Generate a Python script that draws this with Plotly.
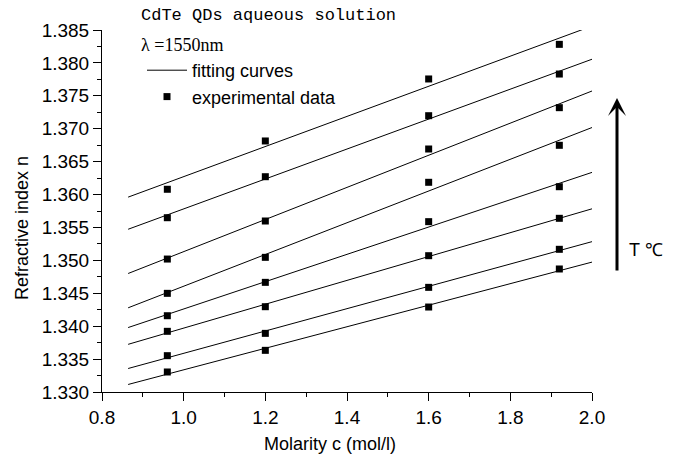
import numpy as np
import plotly.graph_objects as go

# Molarity (mol/l) of the measured samples
molarity = [0.96, 1.2, 1.6, 1.92]

# Refractive index per temperature (bottom curve = lowest T)
n_T1 = [1.33304, 1.33633, 1.34291, 1.34869]
n_T2 = [1.33552, 1.33891, 1.34590, 1.35168]
n_T3 = [1.33922, 1.34296, 1.35071, 1.35639]
n_T4 = [1.34159, 1.34666, 1.35588, 1.36119]
n_T5 = [1.34499, 1.35046, 1.36186, 1.36748]
n_T6 = [1.35020, 1.35598, 1.36692, 1.37320]
n_T7 = [1.35648, 1.36271, 1.37198, 1.37831]
n_T8 = [1.36080, 1.36814, 1.37756, 1.38282]
series = [n_T1, n_T2, n_T3, n_T4, n_T5, n_T6, n_T7, n_T8]

# span of the fitted lines (mol/l)
fit_span = [0.864, 2.0]

x_ticks = [0.8, 1.0, 1.2, 1.4, 1.6, 1.8, 2.0]
y_ticks = [1.330, 1.335, 1.340, 1.345, 1.350, 1.355, 1.360, 1.365, 1.370, 1.375, 1.380, 1.385]

SANS = "Arial, Liberation Sans, sans-serif"

fig = go.Figure()

# linear least-squares fitting curves
for i, ys in enumerate(series):
    k, b = np.polyfit(molarity, ys, 1)
    fx = np.array(fit_span)
    fig.add_trace(go.Scatter(
        x=fx, y=k * fx + b, mode="lines",
        line=dict(color="black", width=1),
        name="fitting curves", showlegend=(i == 0), hoverinfo="skip"))

# experimental data points
all_x, all_y = [], []
for ys in series:
    all_x += molarity
    all_y += ys
fig.add_trace(go.Scatter(
    x=all_x, y=all_y, mode="markers",
    marker=dict(symbol="square", size=7, color="black"),
    name="experimental data", showlegend=True))

W, H = 673, 454
PL, PR, PT, PB = 102, 592, 30, 392
pw, ph = PR - PL, PB - PT

def px(xpix):
    return (xpix - PL) / pw

def py(ypix):
    return (PB - ypix) / ph

fig.update_layout(
    width=W, height=H,
    margin=dict(l=PL, r=W - PR, t=PT, b=H - PB, autoexpand=False),
    paper_bgcolor="white", plot_bgcolor="white",
    font=dict(family=SANS, size=19, color="black"),
    showlegend=True,
    legend=dict(x=px(142), y=py(52), xanchor="left", yanchor="top",
                bgcolor="rgba(0,0,0,0)", borderwidth=0,
                font=dict(family=SANS, size=18), itemwidth=40,
                tracegroupgap=0),
    xaxis=dict(range=[0.8, 2.0], tickvals=x_ticks,
               ticktext=[f"{v:.1f}" for v in x_ticks],
               showgrid=False, zeroline=False,
               showline=True, linecolor="black", linewidth=1,
               ticks="outside", ticklen=8, tickwidth=1, tickcolor="black",
               minor=dict(ticks="outside", ticklen=4, dtick=0.1,
                          tick0=0.8, tickcolor="black", showgrid=False),
               tickfont=dict(size=19)),
    yaxis=dict(range=[1.330, 1.385], tickvals=y_ticks,
               ticktext=[f"{v:.3f}" for v in y_ticks],
               showgrid=False, zeroline=False,
               showline=True, linecolor="black", linewidth=1,
               ticks="outside", ticklen=8, tickwidth=1, tickcolor="black",
               minor=dict(ticks="outside", ticklen=4, dtick=0.0025,
                          tick0=1.330, tickcolor="black", showgrid=False),
               tickfont=dict(size=19)),
)

annotations = [
    dict(text="CdTe QDs aqueous solution", x=px(139), y=py(15),
         xref="paper", yref="paper", xanchor="left", yanchor="middle",
         showarrow=False, font=dict(family="Liberation Mono, monospace", size=17)),
    dict(text="λ =1550nm", x=px(139), y=py(45),
         xref="paper", yref="paper", xanchor="left", yanchor="middle",
         showarrow=False, font=dict(family="Liberation Serif, serif", size=18)),
    dict(text="Refractive index n", x=px(22), y=py(228), textangle=-90,
         xref="paper", yref="paper", xanchor="center", yanchor="middle",
         showarrow=False, font=dict(family=SANS, size=18)),
    dict(text="Molarity c (mol/l)", x=px(330), y=py(444),
         xref="paper", yref="paper", xanchor="center", yanchor="middle",
         showarrow=False, font=dict(family=SANS, size=18)),
    dict(text="T ℃", x=px(627), y=py(250),
         xref="paper", yref="paper", xanchor="left", yanchor="middle",
         showarrow=False, font=dict(family=SANS, size=18)),
    dict(text="", x=px(617), y=py(98), xref="paper", yref="paper",
         showarrow=True, ax=0, ay=174, arrowhead=3, arrowsize=1.0,
         arrowwidth=3, arrowcolor="black"),
]
fig.update_layout(annotations=annotations)

# remove the default 8px body margin so the figure fills the window exactly
fig.write_html("out.html",
               config={"displayModeBar": False},
               post_script="document.body.style.margin='0';")
